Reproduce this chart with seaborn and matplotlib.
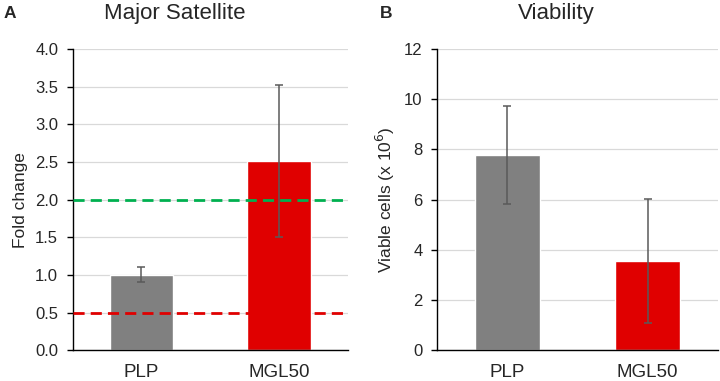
import matplotlib
matplotlib.use('Agg')
import matplotlib.pyplot as plt
import numpy as np
import pandas as pd
import seaborn as sns

# data
groups = ['PLP', 'MGL50']
fold_change = [1.0, 2.52]
fold_err = [0.1, 1.01]
viable = [7.78, 3.55]
viable_err = [1.96, 2.47]
thresholds = [2.0, 0.5]

bar_colors = ['#808080', '#e00000']
line_colors = ['#00b050', '#e00000']

sns.set_theme(style='white')
plt.rcParams['font.family'] = ['Liberation Sans', 'DejaVu Sans']

fig = plt.figure(figsize=(7.2, 3.81), dpi=100)
axA = fig.add_axes([0.101, 0.081, 0.382, 0.790])
axB = fig.add_axes([0.607, 0.081, 0.390, 0.790])


def panel(ax, vals, errs, ylabel, ylim, step, fmt):
    df = pd.DataFrame({'group': groups, 'value': vals})
    sns.barplot(data=df, x='group', y='value', hue='group', palette=bar_colors,
                legend=False, errorbar=None, width=0.46, saturation=1, ax=ax, zorder=2)
    ax.errorbar(np.arange(len(vals)), vals, yerr=errs, fmt='none', ecolor='#5a5a5a',
                elinewidth=1.1, capsize=3, capthick=1.1, zorder=3)
    ax.set_ylim(*ylim)
    ax.set_xlim(-0.5, len(vals) - 0.5)
    ticks = np.arange(ylim[0], ylim[1] + step / 2, step)
    ax.set_yticks(ticks)
    ax.set_yticklabels([fmt.format(t) for t in ticks])
    ax.yaxis.grid(True, color='#d9d9d9', linewidth=0.9, zorder=0)
    ax.set_axisbelow(True)
    for s in ['top', 'right']:
        ax.spines[s].set_visible(False)
    for s in ['left', 'bottom']:
        ax.spines[s].set_color('black')
        ax.spines[s].set_linewidth(1.0)
    ax.tick_params(axis='y', which='both', left=True, length=4.5, width=1, color='black',
                   labelsize=12, pad=6)
    ax.tick_params(axis='x', bottom=False, labelsize=13.5, pad=4)
    ax.set_xlabel('')
    ax.set_ylabel(ylabel, fontsize=12.5, labelpad=5)


panel(axA, fold_change, fold_err, 'Fold change', (0, 4.0), 0.5, '{:.1f}')
panel(axB, viable, viable_err, 'Viable cells (x 10$^6$)', (0, 12), 2, '{:.0f}')

for y, c in zip(thresholds, line_colors):
    axA.axhline(y, color=c, linestyle=(0, (4, 2.2)), linewidth=2, zorder=4)

fig.text(175 / 720, 1 - 13 / 381, 'Major Satellite', fontsize=16, ha='center', va='center')
fig.text(556 / 720, 1 - 13 / 381, 'Viability', fontsize=16, ha='center', va='center')
fig.text(0.005, 1 - 13 / 381, 'A', fontsize=12.5, fontweight='bold', va='center')
fig.text(0.527, 1 - 13 / 381, 'B', fontsize=12.5, fontweight='bold', va='center')

fig.savefig('out.png', dpi=100)
